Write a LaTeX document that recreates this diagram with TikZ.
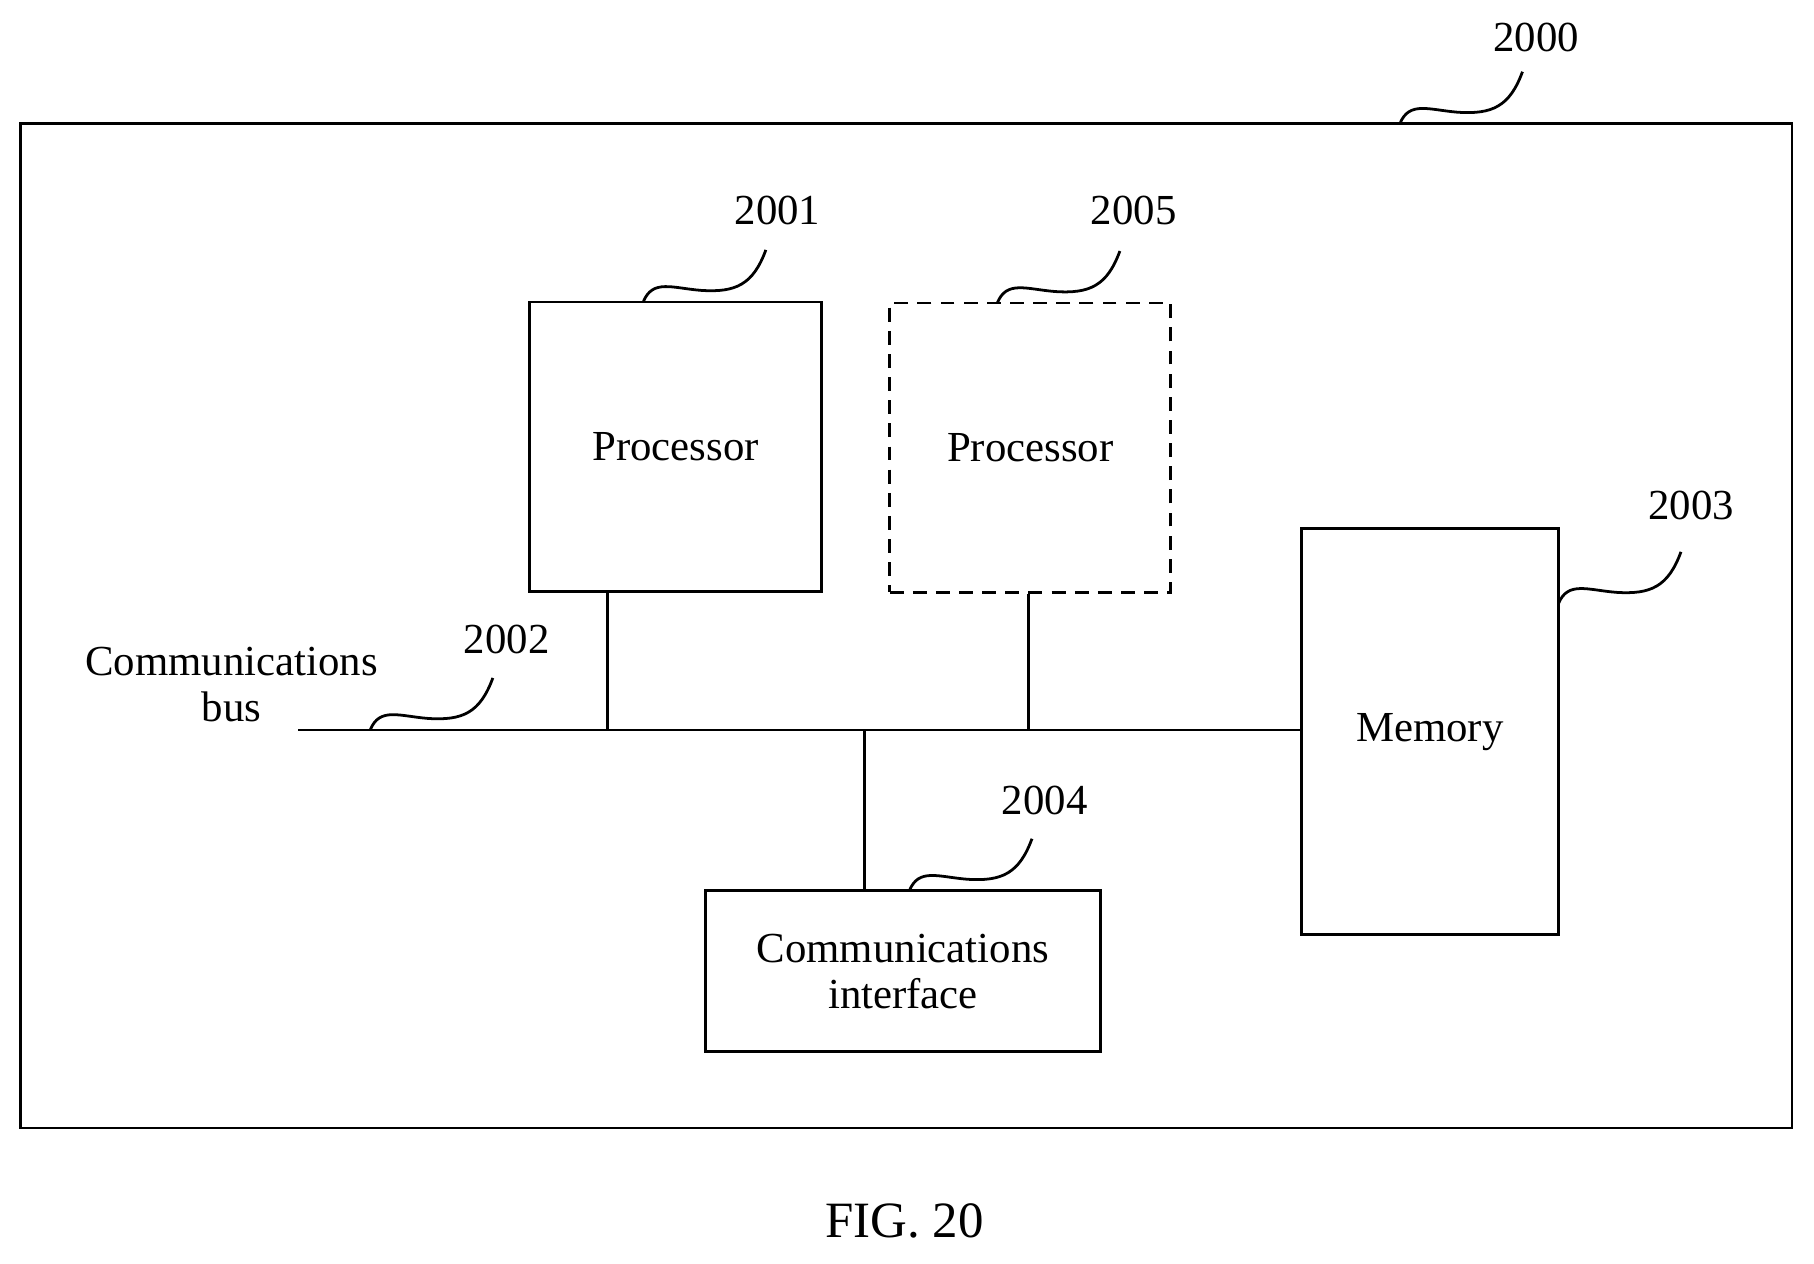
\documentclass[tikz,border=0pt]{standalone}
\usepackage{fontspec}
\setmainfont{Liberation Serif}
\usetikzlibrary{positioning}
\tikzset{every picture/.style={line width=2.4pt},
  box/.style={draw,line width=2.4pt,align=center,inner sep=0pt,font=\fontsize{37}{44}\selectfont},
  lbl/.style={font=\fontsize{37}{44}\selectfont,inner sep=0pt},
  leader/.pic={\draw (0,0) .. controls (8,20) and (25,12) .. (50,10) .. controls (80,8) and (95,15) .. (106,45);}}
\begin{document}
\begin{tikzpicture}[x=1pt,y=1pt,yscale=-1,xscale=1]
        \useasboundingbox (0,0) rectangle (1568,1092);

        %Outer device
        \node [box,minimum width=1531,minimum height=868] (dev) at (783.5,541) {};
        %Boxes
        \node [box,minimum width=252,minimum height=250] (proc1) at (584,386) {Processor};
        \node [box,dashed,dash pattern=on 12pt off 8pt,minimum width=243,minimum height=250] (proc2) at (890.5,387) {Processor};
        \node [box,minimum width=222,minimum height=351] (mem) at (1236,632.5) {Memory};
        \node [box,minimum width=341,minimum height=139] (comm) at (780.5,839.5) {Communications\\[-4pt]interface};

        %Bus
        \coordinate (busL) at (258,631);
        \coordinate (busA) at (525,631);
        \coordinate (busB) at (889,631);
        \coordinate (busC) at (747,631);
        \draw (busL) -- (busL -| mem.west);
        \draw (busA) -- (busA |- proc1.south);
        \draw (busB) -- (busB |- proc2.south);
        \draw (busC) -- (busC |- comm.north);
        \node [lbl,align=center] (buslbl) at (200,592) {Communications\\[-4pt]bus};

        %Leaders and reference numbers
        \pic at (1210,107) {leader};
        \node [lbl] (n2000) at (1328,32) {2000};
        \pic at (556,261) {leader};
        \node [lbl] (n2001) at (672,182) {2001};
        \pic at (862,262) {leader};
        \node [lbl] (n2005) at (980,182) {2005};
        \pic at (1347,522) {leader};
        \node [lbl] (n2003) at (1462,437) {2003};
        \pic at (786,770) {leader};
        \node [lbl] (n2004) at (903,692) {2004};
        \pic at (320,631) {leader};
        \node [lbl] (n2002) at (438,553) {2002};

        \node [lbl,font=\fontsize{44}{50}\selectfont] (fig) at (782,1055) {FIG. 20};
\end{tikzpicture}
\end{document}
